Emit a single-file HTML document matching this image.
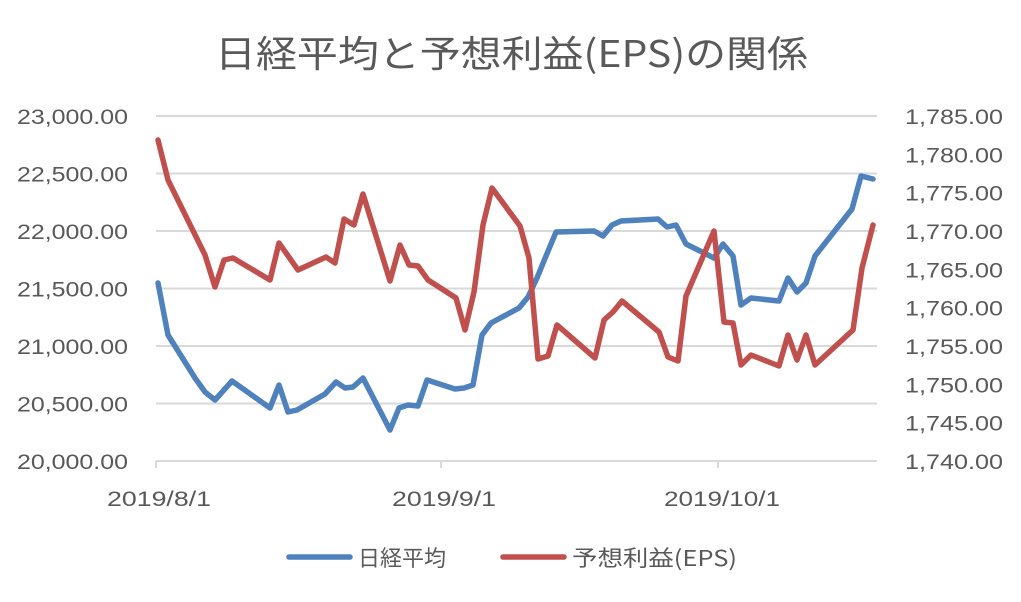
<!DOCTYPE html>
<html><head><meta charset="utf-8"><style>body{margin:0;background:#fff}svg{display:block}</style></head>
<body>
<svg width="1021" height="602" viewBox="0 0 1021 602" xmlns="http://www.w3.org/2000/svg" font-family="Liberation Sans, Noto Sans CJK JP, sans-serif" fill="#595959">
<rect width="1021" height="602" fill="#fff"/>
<text x="215" y="67" font-size="37" textLength="593" lengthAdjust="spacingAndGlyphs" font-family="Noto Sans CJK JP, sans-serif">日経平均と予想利益(EPS)の関係</text>
<g stroke="#d9d9d9" stroke-width="2">
<line x1="156" y1="116" x2="877" y2="116"/><line x1="156" y1="173.5" x2="877" y2="173.5"/><line x1="156" y1="231" x2="877" y2="231"/><line x1="156" y1="288.5" x2="877" y2="288.5"/><line x1="156" y1="346" x2="877" y2="346"/><line x1="156" y1="403.5" x2="877" y2="403.5"/><line x1="156" y1="461" x2="877" y2="461"/>
<line x1="156" y1="461" x2="156" y2="468"/><line x1="441" y1="461" x2="441" y2="468"/><line x1="718" y1="461" x2="718" y2="468"/>
</g>
<g font-size="21">
<text x="17" y="124" textLength="111" lengthAdjust="spacingAndGlyphs">23,000.00</text>
<text x="17" y="181.5" textLength="111" lengthAdjust="spacingAndGlyphs">22,500.00</text>
<text x="17" y="239" textLength="111" lengthAdjust="spacingAndGlyphs">22,000.00</text>
<text x="17" y="296.5" textLength="111" lengthAdjust="spacingAndGlyphs">21,500.00</text>
<text x="17" y="354" textLength="111" lengthAdjust="spacingAndGlyphs">21,000.00</text>
<text x="17" y="411.5" textLength="111" lengthAdjust="spacingAndGlyphs">20,500.00</text>
<text x="17" y="469" textLength="111" lengthAdjust="spacingAndGlyphs">20,000.00</text>
<text x="905" y="124" textLength="98" lengthAdjust="spacingAndGlyphs">1,785.00</text>
<text x="905" y="162.3" textLength="98" lengthAdjust="spacingAndGlyphs">1,780.00</text>
<text x="905" y="200.7" textLength="98" lengthAdjust="spacingAndGlyphs">1,775.00</text>
<text x="905" y="239" textLength="98" lengthAdjust="spacingAndGlyphs">1,770.00</text>
<text x="905" y="277.3" textLength="98" lengthAdjust="spacingAndGlyphs">1,765.00</text>
<text x="905" y="315.7" textLength="98" lengthAdjust="spacingAndGlyphs">1,760.00</text>
<text x="905" y="354" textLength="98" lengthAdjust="spacingAndGlyphs">1,755.00</text>
<text x="905" y="392.3" textLength="98" lengthAdjust="spacingAndGlyphs">1,750.00</text>
<text x="905" y="430.7" textLength="98" lengthAdjust="spacingAndGlyphs">1,745.00</text>
<text x="905" y="469" textLength="98" lengthAdjust="spacingAndGlyphs">1,740.00</text>
<text x="107" y="506" textLength="104" lengthAdjust="spacingAndGlyphs">2019/8/1</text>
<text x="392" y="506" textLength="104" lengthAdjust="spacingAndGlyphs">2019/9/1</text>
<text x="664" y="506" textLength="116" lengthAdjust="spacingAndGlyphs">2019/10/1</text>
</g>
<g fill="none" stroke-width="5.5" stroke-linejoin="round" stroke-linecap="round">
<polyline stroke="#4f81bd" points="158,283 168,335 195,378 205,392 215,400 232,381 270,408 279,385 288,412 297,410 325,394 336,382 345,388 353,387 363,378 390,430 399,408 408,405 418,406 427,380 455,389 464,388 473,385 482,335 491,323 519,308 528,297 537,278 546,256 556,232 594,231 603,236 612,225 621,221 658,219 667,227 676,225 686,244 714,258 723,244 733,256 741,305 751,298 779,301 788,278 797,292 806,283 815,256 852,209 861,176 873,179"/>
<polyline stroke="#c0504d" points="158,140 168,180 205,255 215,287 224,260 233,258 270,280 279,243 298,270 326,257 335,263 344,219 354,225 363,194 390,281 400,245 409,265 418,266 428,280 456,298 465,330 474,292 483,225 492,188 520,226 529,258 538,359 548,356 557,325 595,358 604,320 613,312 622,301 659,332 668,357 678,361 686,296 714,231 724,322 733,323 741,365 751,355 779,366 788,335 797,360 806,335 815,365 853,330 862,268 873,225"/>
<line stroke="#4f81bd" x1="289" y1="557" x2="350" y2="557"/>
<line stroke="#c0504d" x1="503" y1="557" x2="564" y2="557"/>
</g>
<g font-size="22" font-family="Noto Sans CJK JP, sans-serif">
<text x="358" y="566">日経平均</text>
<text x="572" y="566" textLength="165" lengthAdjust="spacingAndGlyphs">予想利益(EPS)</text>
</g>
</svg>
</body></html>
